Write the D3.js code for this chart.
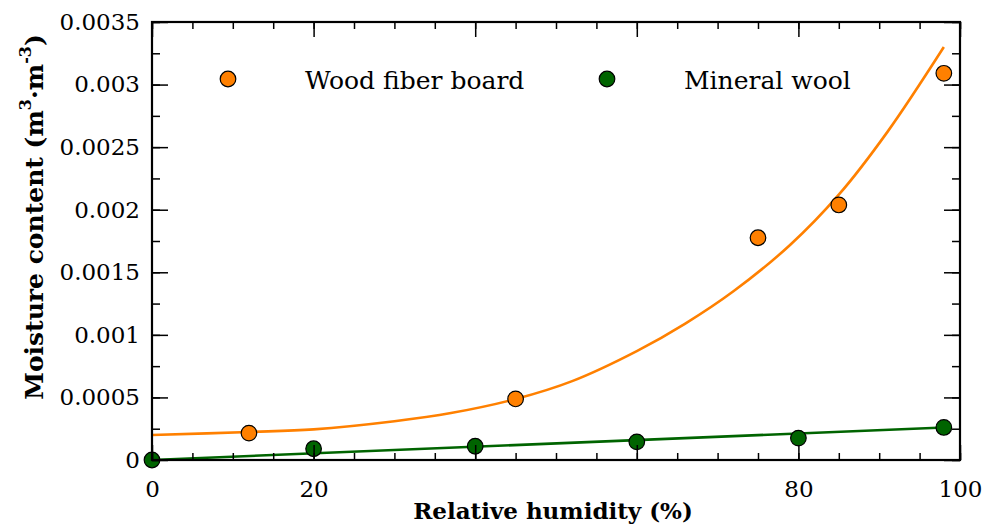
<!DOCTYPE html>
<html>
<head>
<meta charset="utf-8">
<script src="https://cdn.jsdelivr.net/npm/d3@7"></script>
<style>
  html, body { margin: 0; padding: 0; background: #fff; }
  svg { display: block; }
</style>
</head>
<body>
<svg id="chart" width="982" height="526"></svg>
<script>
// Measured moisture content by relative humidity
const woodRH = [12, 45, 75, 85, 98];
const woodMC = [0.000215, 0.000488, 0.001776, 0.002038, 0.00309];
const woolRH = [0, 20, 40, 60, 80, 98];
const woolMC = [0, 0.00009, 0.00011, 0.000145, 0.000175, 0.00026];

// Trend curves (fitted)
const woodFitRH = [0, 12, 20, 30, 37, 45, 52, 60, 66, 72, 79, 85, 91, 98];
const woodFitMC = [0.0002, 0.000224, 0.000245, 0.00031, 0.000375, 0.000487, 0.00063, 0.00087, 0.00109, 0.00135, 0.00172, 0.00212, 0.00262, 0.0033];
const woolFitRH = [0, 98];
const woolFitMC = [0, 0.00026];

// Axis ticks
const xMajorTicks = [0, 20, 40, 60, 80, 100];
const xTickLabels = [0, 20, 80, 100];
const xMinorTicks = d3.range(0, 101, 5);
const yMajorTicks = [0, 0.0005, 0.001, 0.0015, 0.002, 0.0025, 0.003, 0.0035];
const yTickLabels = ["0", "0.0005", "0.001", "0.0015", "0.002", "0.0025", "0.003", "0.0035"];
const yMinorTicks = d3.range(0, 15).map(i => i * 0.00025);

const seriesNames = ["Wood fiber board", "Mineral wool"];
const seriesColors = ["#ff8000", "#006400"];

const FONT = "DejaVu Serif";

const svg = d3.select("#chart");
const m = { left: 152, right: 960, top: 22, bottom: 460 };

const x = d3.scaleLinear().domain([0, 100]).range([m.left, m.right]);
const y = d3.scaleLinear().domain([0, 0.0035]).range([m.bottom, m.top]);

const zip = (a, b) => a.map((v, i) => [v, b[i]]);

// Trend lines
const line = d3.line().x(d => x(d[0])).y(d => y(d[1])).curve(d3.curveCatmullRom.alpha(0.5));
svg.append("path")
  .attr("d", line(zip(woodFitRH, woodFitMC)))
  .attr("fill", "none").attr("stroke", seriesColors[0]).attr("stroke-width", 2.6);
svg.append("path")
  .attr("d", line(zip(woolFitRH, woolFitMC)))
  .attr("fill", "none").attr("stroke", seriesColors[1]).attr("stroke-width", 2.6);

// Measured points
function dots(xs, ys, color) {
  svg.append("g").selectAll("circle")
    .data(zip(xs, ys))
    .join("circle")
    .attr("cx", d => x(d[0])).attr("cy", d => y(d[1])).attr("r", 7.8)
    .attr("fill", color).attr("stroke", "#000").attr("stroke-width", 1.2);
}
dots(woodRH, woodMC, seriesColors[0]);
dots(woolRH, woolMC, seriesColors[1]);

// Axes with inward ticks on all four sides
function styleAxis(g) {
  g.attr("font-family", FONT);
  g.select(".domain").remove();
  g.selectAll(".tick line").attr("stroke", "#000").attr("stroke-width", 1.5);
  g.selectAll(".tick text").attr("font-size", 23).attr("fill", "#000");
}
const noLabel = () => "";

svg.append("g").attr("transform", `translate(0,${m.bottom})`)
  .call(d3.axisBottom(x).tickValues(xMinorTicks).tickSize(-7).tickFormat(noLabel)).call(styleAxis);
svg.append("g").attr("transform", `translate(0,${m.bottom})`)
  .call(d3.axisBottom(x).tickValues(xMajorTicks).tickSize(-15).tickPadding(21)
    .tickFormat(d => xTickLabels.includes(d) ? d : "")).call(styleAxis);

svg.append("g").attr("transform", `translate(0,${m.top})`)
  .call(d3.axisTop(x).tickValues(xMinorTicks).tickSize(-7).tickFormat(noLabel)).call(styleAxis);
svg.append("g").attr("transform", `translate(0,${m.top})`)
  .call(d3.axisTop(x).tickValues(xMajorTicks).tickSize(-15).tickFormat(noLabel)).call(styleAxis);

svg.append("g").attr("transform", `translate(${m.left},0)`)
  .call(d3.axisLeft(y).tickValues(yMinorTicks).tickSize(-8).tickFormat(noLabel)).call(styleAxis);
svg.append("g").attr("transform", `translate(${m.left},0)`)
  .call(d3.axisLeft(y).tickValues(yMajorTicks).tickSize(-16).tickPadding(12)
    .tickFormat((d, i) => yTickLabels[i])).call(styleAxis);

svg.append("g").attr("transform", `translate(${m.right},0)`)
  .call(d3.axisRight(y).tickValues(yMinorTicks).tickSize(-8).tickFormat(noLabel)).call(styleAxis);
svg.append("g").attr("transform", `translate(${m.right},0)`)
  .call(d3.axisRight(y).tickValues(yMajorTicks).tickSize(-16).tickFormat(noLabel)).call(styleAxis);

// Plot frame
svg.append("rect")
  .attr("x", m.left).attr("y", m.top)
  .attr("width", m.right - m.left).attr("height", m.bottom - m.top)
  .attr("fill", "none").attr("stroke", "#000").attr("stroke-width", 2.2);

// Axis titles
svg.append("text")
  .attr("x", 553).attr("y", 519)
  .attr("text-anchor", "middle").attr("font-size", 23).attr("font-weight", "bold")
  .attr("font-family", FONT)
  .text("Relative humidity (%)");

const yTitle = svg.append("text")
  .attr("transform", "translate(43,217) rotate(-90)")
  .attr("text-anchor", "middle").attr("font-size", 25).attr("font-weight", "bold")
  .attr("font-family", FONT);
yTitle.append("tspan").text("Moisture content (m");
yTitle.append("tspan").attr("font-size", 16).attr("dy", -12).text("3");
yTitle.append("tspan").attr("dy", 12).text("·m");
yTitle.append("tspan").attr("font-size", 16).attr("dy", -12).text("-3");
yTitle.append("tspan").attr("dy", 12).text(")");

// Legend
const legendX = [228, 607];
const legendTextX = [305, 684];
seriesNames.forEach((name, i) => {
  svg.append("circle")
    .attr("cx", legendX[i]).attr("cy", 79).attr("r", 7.8)
    .attr("fill", seriesColors[i]).attr("stroke", "#000").attr("stroke-width", 1.2);
  svg.append("text")
    .attr("x", legendTextX[i]).attr("y", 89)
    .attr("font-size", 25).attr("font-family", FONT)
    .text(name);
});
</script>
</body>
</html>
